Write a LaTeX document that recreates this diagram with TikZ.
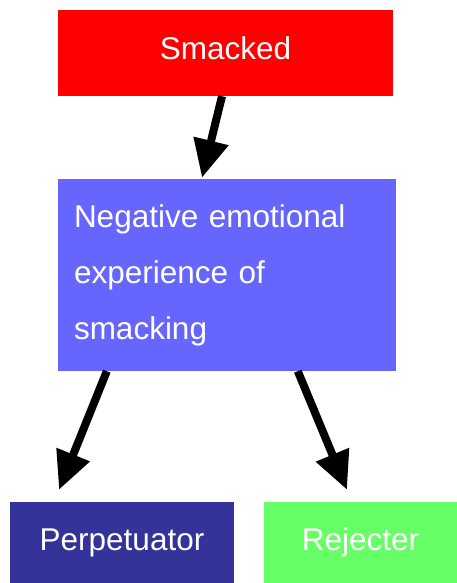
\documentclass[tikz,border=0pt]{standalone}
\usepackage{fontspec}
\setmainfont{Liberation Sans}
\usetikzlibrary{positioning,arrows.meta}
\definecolor{smackred}{RGB}{255,0,0}
\definecolor{negblue}{RGB}{102,102,255}
\definecolor{perpblue}{RGB}{51,51,153}
\definecolor{rejgreen}{RGB}{102,255,102}

\begin{document}
\begin{tikzpicture}[x=1pt,y=-1pt,
    box/.style={rectangle,text=white,inner sep=0pt,
      font=\fontsize{31.5}{56}\selectfont},
    bigarrow/.style={line width=8pt,-{Triangle[length=38pt,width=34pt]}}]
   \useasboundingbox (0,0) rectangle (457,583);

   \node[box,fill=smackred,minimum width=335pt,minimum height=86pt,text depth=9pt] (smacked) at (225.5,53) {Smacked};
   \node[box,fill=negblue,minimum width=338pt,minimum height=192pt,
         text width=306pt,align=left] (neg) at (227,275)
         {Negative emotional\\experience of\\smacking};
   \node[box,fill=perpblue,minimum width=224pt,minimum height=81pt] (perp) at (122,542.5) {Perpetuator};
   \node[box,fill=rejgreen,minimum width=193pt,minimum height=81pt] (rej) at (360.5,542.5) {Rejecter};

   \draw[bigarrow] ([xshift=-3.5pt]smacked.south) -- ([xshift=-25pt,yshift=1pt]neg.north);
   \draw[bigarrow] ([xshift=49pt]neg.south west) -- ([xshift=-63pt,yshift=12pt]perp.north);
   \draw[bigarrow] ([xshift=240pt]neg.south west) -- ([xshift=-13.5pt,yshift=12pt]rej.north);
\end{tikzpicture}
\end{document}
